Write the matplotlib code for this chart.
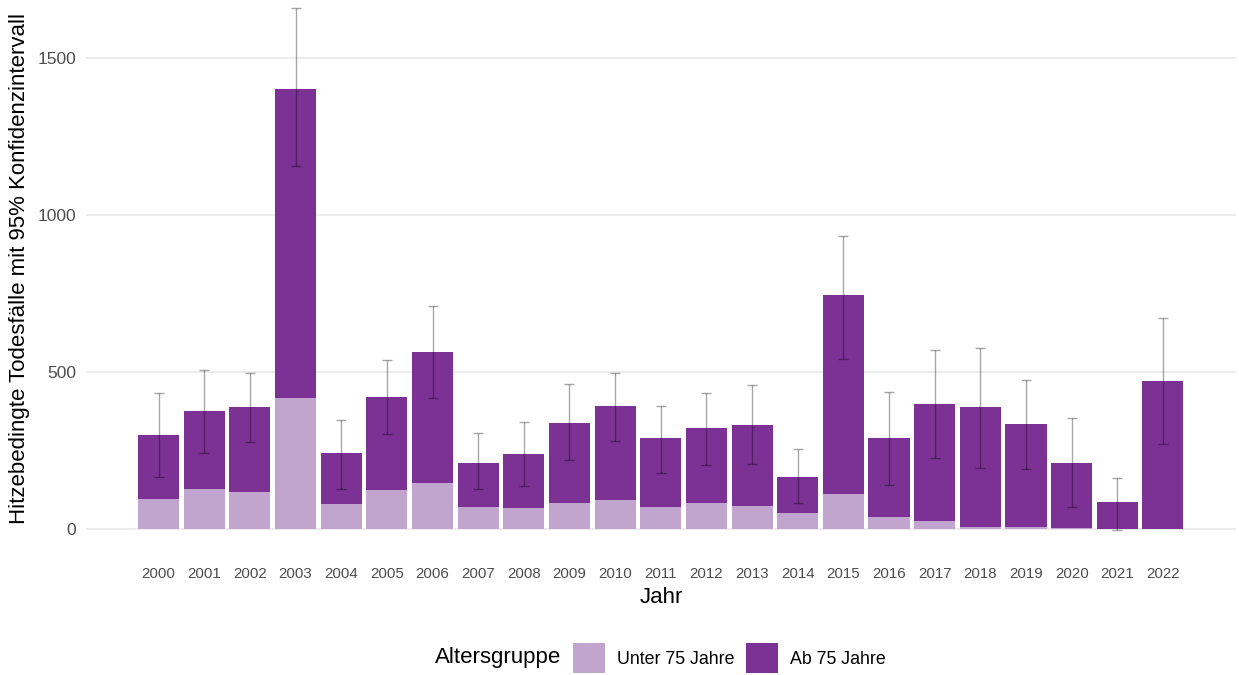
import numpy as np
import matplotlib
matplotlib.use("Agg")
import matplotlib.pyplot as plt
from matplotlib.patches import Patch

plt.rcParams['font.family'] = ['Liberation Sans', 'DejaVu Sans']

# heat-related deaths per year, split by age group, with 95% CI of the total
years = list(range(2000, 2023))
unter_75 = [97, 128, 117, 417, 80, 124, 147, 69, 68, 82, 93, 70, 83, 73, 50, 110, 37, 27, 6, 6, 3, 1, 0]
ab_75 = [203, 248, 270, 984, 161, 295, 416, 142, 172, 255, 297, 219, 238, 257, 115, 635, 253, 370, 383, 327, 208, 84, 472]
ci_lower = [166, 242, 276, 1154, 126, 302, 417, 126, 136, 219, 281, 179, 204, 207, 82, 541, 140, 227, 195, 192, 70, -4, 269]
ci_upper = [433, 505, 497, 1657, 347, 538, 710, 305, 342, 462, 496, 390, 434, 459, 256, 933, 436, 571, 576, 475, 354, 162, 672]

col_unter = '#c2a5cf'
col_ab = '#7b3294'
grey_text = '#4d4d4d'

W, H = 1239, 675
fig = plt.figure(figsize=(W / 100, H / 100), dpi=100)
ax = fig.add_axes([86 / W, 1 - 558 / H, 1150 / W, 558 / H])

x = np.arange(len(years))
unter = np.array(unter_75)
ab = np.array(ab_75)
total = unter + ab

ax.bar(x, unter, width=0.9, color=col_unter, zorder=2)
ax.bar(x, ab, width=0.9, bottom=unter, color=col_ab, zorder=2)
ax.errorbar(x, total, yerr=[total - np.array(ci_lower), np.array(ci_upper) - total],
            fmt='none', ecolor=(0, 0, 0, 0.35), elinewidth=1.0, capsize=3.3,
            capthick=1.0, zorder=3)

ax.set_xlim(-1.59, 23.6)
ax.set_ylim(-92.3, 1683.6)
ax.set_yticks([0, 500, 1000, 1500])
ax.set_xticks(x)
ax.set_xticklabels([str(y) for y in years])

ax.yaxis.grid(True, color='#ebebeb', linewidth=1.3)
ax.set_axisbelow(True)
for s in ax.spines.values():
    s.set_visible(False)
ax.tick_params(axis='y', length=0, pad=7, labelsize=12.6, labelcolor=grey_text)
ax.tick_params(axis='x', length=0, pad=6.5, labelsize=10.8, labelcolor=grey_text)

ax.set_ylabel('Hitzebedingte Todesfälle mit 95% Konfidenzintervall', fontsize=16, va='center')
ax.yaxis.set_label_coords(-0.0574, 0.518)
ax.set_xlabel('Jahr', fontsize=16, va='center')
ax.xaxis.set_label_coords(0.5, -0.0699)

# legend at the bottom, title on the left side
fig.text(435 / W, 1 - 658 / H, 'Altersgruppe', fontsize=16, ha='left', va='center')
handles = [Patch(facecolor=col_unter, label='Unter 75 Jahre'),
           Patch(facecolor=col_ab, label='Ab 75 Jahre')]
fig.legend(handles=handles, loc='center left', bbox_to_anchor=(573 / W, 1 - 658 / H),
           ncol=2, frameon=False, fontsize=12.8, borderpad=0, borderaxespad=0,
           handlelength=1.8, handleheight=2.2, handletextpad=0.67, columnspacing=0.67)

fig.savefig('out.png', dpi=100, facecolor='white')
